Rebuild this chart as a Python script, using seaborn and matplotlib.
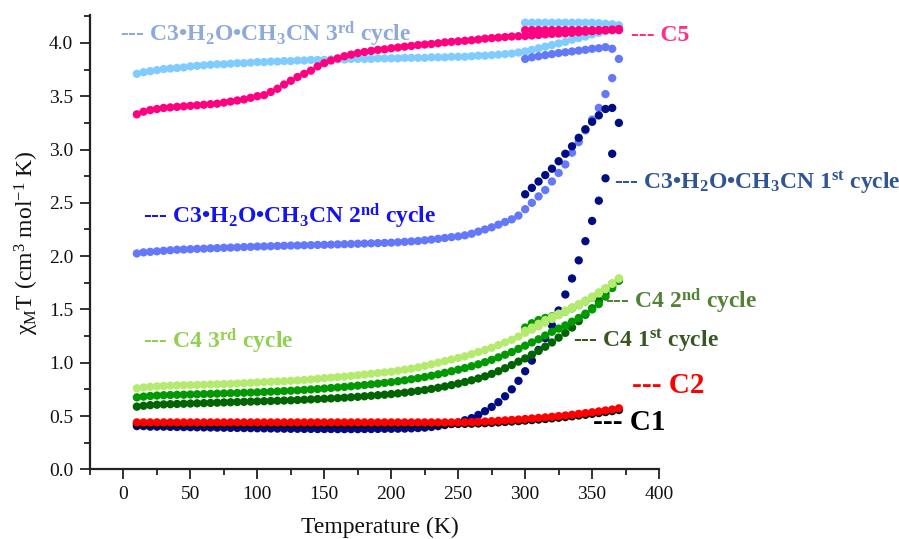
import numpy as np
import pandas as pd
import matplotlib
matplotlib.use("Agg")
import matplotlib.pyplot as plt
from matplotlib.ticker import MultipleLocator
import seaborn as sns

# ---------------- data ----------------
temp_main = [10, 15, 20, 25, 30, 35, 40, 45, 50, 55, 60, 65, 70, 75, 80, 85, 90, 95,
             100, 105, 110, 115, 120, 125, 130, 135, 140, 145, 150, 155, 160, 165, 170, 175,
             180, 185, 190, 195, 200, 205, 210, 215, 220, 225, 230, 235, 240, 245, 250, 255,
             260, 265, 270, 275, 280, 285, 290, 295, 300, 305, 310, 315, 320, 325, 330, 335,
             340, 345, 350, 355, 360, 365, 370]
temp_short = [300, 305, 310, 315, 320, 325, 330, 335, 340, 345, 350, 355, 360, 365, 370]
temp_short14 = [300, 305, 310, 315, 320, 325, 330, 335, 340, 345, 350, 355, 360, 365]

c3_3rd_main = [3.71, 3.725, 3.735, 3.745, 3.755, 3.76, 3.765, 3.77,
               3.78, 3.785, 3.79, 3.795, 3.80, 3.80, 3.805, 3.81, 3.81, 3.815,
               3.82, 3.82, 3.825, 3.825, 3.83, 3.83, 3.835, 3.835, 3.84, 3.84,
               3.84, 3.845, 3.845, 3.845, 3.85, 3.85, 3.85, 3.85, 3.855, 3.855,
               3.855, 3.855, 3.86, 3.86, 3.86, 3.86, 3.865, 3.865, 3.865, 3.87,
               3.87, 3.87, 3.875, 3.88, 3.88, 3.885, 3.89, 3.895, 3.90, 3.91,
               3.92, 3.935, 3.95, 3.965, 3.98, 3.995, 4.01, 4.03, 4.045, 4.06,
               4.08, 4.095, 4.11, 4.13, 4.15]
c3_3rd_short = [4.19, 4.19, 4.19, 4.19, 4.19, 4.19, 4.19, 4.19, 4.19, 4.19, 4.19, 4.185, 4.18, 4.175, 4.165]

c5_main = [3.33, 3.355, 3.37, 3.38, 3.39, 3.395, 3.40, 3.405,
           3.41, 3.415, 3.42, 3.425, 3.43, 3.44, 3.45, 3.46, 3.47, 3.485,
           3.50, 3.51, 3.54, 3.57, 3.61, 3.645, 3.68, 3.71, 3.74, 3.78,
           3.81, 3.835, 3.855, 3.875, 3.89, 3.905, 3.915, 3.925, 3.935, 3.94,
           3.95, 3.957, 3.965, 3.972, 3.98, 3.985, 3.99, 3.997, 4.005, 4.01,
           4.015, 4.02, 4.025, 4.032, 4.04, 4.045, 4.05, 4.055, 4.06, 4.063,
           4.065, 4.07, 4.075, 4.08, 4.085, 4.088, 4.09, 4.095, 4.10, 4.105,
           4.11, 4.115, 4.12, 4.125, 4.13]
c5_short = [4.12, 4.12, 4.12, 4.12, 4.12, 4.12, 4.12, 4.12, 4.12, 4.12, 4.12, 4.12, 4.12, 4.12, 4.12]

c3_2nd_main = [2.025, 2.035, 2.04, 2.045, 2.05, 2.055, 2.06, 2.062,
               2.065, 2.068, 2.07, 2.073, 2.075, 2.078, 2.08, 2.082, 2.085, 2.087,
               2.09, 2.091, 2.093, 2.095, 2.097, 2.099, 2.10, 2.102, 2.103, 2.105,
               2.106, 2.108, 2.11, 2.112, 2.114, 2.116, 2.118, 2.12, 2.122, 2.124,
               2.126, 2.13, 2.134, 2.138, 2.142, 2.148, 2.155, 2.162, 2.17, 2.178,
               2.185, 2.195, 2.21, 2.23, 2.25, 2.27, 2.295, 2.32, 2.345, 2.38,
               2.44, 2.50, 2.56, 2.62, 2.70, 2.78, 2.86, 2.97, 3.07, 3.18,
               3.28, 3.39, 3.52, 3.67, 3.85]
c3_2nd_short = [3.85, 3.865, 3.875, 3.885, 3.895, 3.905, 3.912, 3.92, 3.928, 3.935, 3.945, 3.95, 3.96, 3.945]

c3_1st_main = [0.405, 0.405, 0.40, 0.40, 0.40, 0.398, 0.397, 0.396,
               0.395, 0.394, 0.393, 0.392, 0.391, 0.39, 0.389, 0.388, 0.387, 0.386,
               0.385, 0.384, 0.383, 0.382, 0.381, 0.38, 0.38, 0.379, 0.379, 0.378,
               0.378, 0.378, 0.377, 0.377, 0.377, 0.377, 0.378, 0.378, 0.379, 0.38,
               0.38, 0.381, 0.382, 0.384, 0.387, 0.391, 0.397, 0.405, 0.415, 0.427,
               0.44, 0.46, 0.48, 0.51, 0.545, 0.585, 0.63, 0.685, 0.75, 0.83,
               0.92, 1.02, 1.12, 1.23, 1.35, 1.49, 1.64, 1.79, 1.96, 2.14,
               2.33, 2.52, 2.73, 2.96, 3.25]
c3_1st_short = [2.58, 2.64, 2.70, 2.76, 2.82, 2.89, 2.96, 3.03, 3.11, 3.19, 3.26, 3.32, 3.38, 3.39]

c2_main = [0.44, 0.44, 0.44, 0.44, 0.44, 0.44, 0.44, 0.44,
           0.44, 0.44, 0.44, 0.44, 0.44, 0.44, 0.44, 0.44, 0.44, 0.44,
           0.44, 0.44, 0.44, 0.44, 0.44, 0.44, 0.44, 0.44, 0.44, 0.44,
           0.44, 0.44, 0.44, 0.44, 0.44, 0.44, 0.44, 0.44, 0.44, 0.44,
           0.44, 0.44, 0.44, 0.44, 0.44, 0.44, 0.44, 0.44, 0.44, 0.44,
           0.44, 0.441, 0.443, 0.445, 0.448, 0.451, 0.455, 0.459, 0.463, 0.467,
           0.472, 0.477, 0.482, 0.487, 0.493, 0.499, 0.505, 0.512, 0.52, 0.527,
           0.535, 0.543, 0.552, 0.561, 0.572]

c1_main = [0.425, 0.425, 0.425, 0.425, 0.425, 0.425, 0.425, 0.425,
           0.425, 0.425, 0.425, 0.425, 0.425, 0.425, 0.425, 0.425, 0.425, 0.425,
           0.425, 0.425, 0.425, 0.425, 0.425, 0.425, 0.425, 0.425, 0.425, 0.425,
           0.425, 0.425, 0.425, 0.425, 0.425, 0.425, 0.425, 0.425, 0.425, 0.425,
           0.425, 0.425, 0.425, 0.425, 0.425, 0.425, 0.425, 0.425, 0.425, 0.425,
           0.426, 0.427, 0.428, 0.43, 0.433, 0.436, 0.44, 0.444, 0.448, 0.452,
           0.457, 0.462, 0.467, 0.472, 0.478, 0.484, 0.49, 0.497, 0.505, 0.512,
           0.52, 0.528, 0.537, 0.546, 0.556]

c4_3rd_main = [0.76, 0.768, 0.774, 0.778, 0.782, 0.785, 0.787, 0.789,
               0.79, 0.792, 0.794, 0.796, 0.798, 0.80, 0.802, 0.805, 0.808, 0.811,
               0.815, 0.818, 0.821, 0.824, 0.827, 0.83, 0.834, 0.838, 0.843, 0.849,
               0.855, 0.86, 0.865, 0.87, 0.876, 0.882, 0.889, 0.896, 0.903, 0.909,
               0.915, 0.925, 0.935, 0.945, 0.957, 0.97, 0.985, 1.00, 1.015, 1.03,
               1.045, 1.06, 1.08, 1.10, 1.12, 1.14, 1.165, 1.19, 1.215, 1.245,
               1.28, 1.31, 1.34, 1.375, 1.41, 1.445, 1.48, 1.51, 1.54, 1.575,
               1.61, 1.65, 1.69, 1.74, 1.79]
c4_3rd_short = [1.30, 1.33, 1.365, 1.40, 1.43, 1.46, 1.49, 1.52, 1.55, 1.585, 1.62, 1.66, 1.70, 1.745, 1.79]

c4_2nd_main = [0.675, 0.682, 0.688, 0.692, 0.695, 0.697, 0.699, 0.70,
               0.702, 0.704, 0.706, 0.708, 0.71, 0.712, 0.714, 0.716, 0.718, 0.72,
               0.722, 0.725, 0.728, 0.731, 0.734, 0.737, 0.741, 0.745, 0.749, 0.753,
               0.758, 0.763, 0.768, 0.773, 0.779, 0.785, 0.791, 0.797, 0.804, 0.811,
               0.818, 0.826, 0.835, 0.845, 0.855, 0.866, 0.878, 0.891, 0.905, 0.92,
               0.935, 0.95, 0.967, 0.985, 1.005, 1.027, 1.05, 1.075, 1.10, 1.13,
               1.16, 1.19, 1.22, 1.255, 1.29, 1.32, 1.35, 1.385, 1.42, 1.46,
               1.50, 1.55, 1.62, 1.70, 1.77]
c4_2nd_short = [1.33, 1.37, 1.40, 1.42, 1.435, 1.45, 1.48, 1.51, 1.54, 1.575, 1.61, 1.65, 1.69, 1.74]

c4_1st_main = [0.588, 0.596, 0.602, 0.606, 0.609, 0.611, 0.613, 0.615,
               0.617, 0.619, 0.621, 0.623, 0.625, 0.627, 0.629, 0.631, 0.633, 0.635,
               0.637, 0.639, 0.641, 0.643, 0.645, 0.647, 0.65, 0.653, 0.656, 0.659,
               0.662, 0.665, 0.668, 0.672, 0.676, 0.68, 0.685, 0.69, 0.695, 0.70,
               0.706, 0.712, 0.719, 0.727, 0.735, 0.744, 0.754, 0.765, 0.777, 0.79,
               0.804, 0.819, 0.835, 0.852, 0.872, 0.895, 0.92, 0.948, 0.978, 1.01,
               1.04, 1.075, 1.11, 1.15, 1.19, 1.235, 1.28, 1.33, 1.39, 1.45,
               1.51, 1.58, 1.65, 1.72, 1.77]

# series: (x, y, dot colour), drawn in this order
series = [
    (temp_main, c3_3rd_main, "#80CCFF"),
    (temp_short, c3_3rd_short, "#80CCFF"),
    (temp_main, c5_main, "#FF0080"),
    (temp_short, c5_short, "#FF0080"),
    (temp_main, c3_2nd_main, "#6478FA"),
    (temp_short14, c3_2nd_short, "#6478FA"),
    (temp_main, c3_1st_main, "#000C82"),
    (temp_short14, c3_1st_short, "#000C82"),
    (temp_main, c1_main, "#000000"),
    (temp_main, c2_main, "#FF0000"),
    (temp_main, c4_1st_main, "#006400"),
    (temp_short14, c4_2nd_short, "#009A00"),
    (temp_main, c4_2nd_main, "#009A00"),
    (temp_short, c4_3rd_short, "#B4EB6E"),
    (temp_main, c4_3rd_main, "#B4EB6E"),
]

# labels: (text, x, y baseline, colour, size)
labels = [
    (r"--- C3•H$_\mathbf{2}$O•CH$_\mathbf{3}$CN 3$^\mathbf{rd}$ cycle", -2.5, 4.02, "#8EA9DB", 17),
    (r"--- C5", 379.4, 4.015, "#FF2F87", 17),
    (r"--- C3•H$_\mathbf{2}$O•CH$_\mathbf{3}$CN 1$^\mathbf{st}$ cycle", 366, 2.63, "#2F5597", 17),
    (r"--- C3•H$_\mathbf{2}$O•CH$_\mathbf{3}$CN 2$^\mathbf{nd}$ cycle", 14.7, 2.313, "#1414F0", 17),
    (r"--- C4 2$^\mathbf{nd}$ cycle", 359.4, 1.51, "#548235", 17),
    (r"--- C4 1$^\mathbf{st}$ cycle", 335.8, 1.15, "#385723", 17),
    (r"--- C4 3$^\mathbf{rd}$ cycle", 14.9, 1.135, "#92D050", 17),
    (r"--- C2", 380, 0.72, "#FF0000", 21),
    (r"--- C1", 351, 0.369, "#000000", 21),
]

x_ticks = [0, 50, 100, 150, 200, 250, 300, 350, 400]
y_ticks = [0.0, 0.5, 1.0, 1.5, 2.0, 2.5, 3.0, 3.5, 4.0]

# ---------------- plotting ----------------
sns.set_style("ticks")
plt.rcParams["font.family"] = ["Liberation Serif", "DejaVu Serif"]
plt.rcParams["mathtext.fontset"] = "custom"
plt.rcParams["mathtext.rm"] = "Liberation Serif"
plt.rcParams["mathtext.it"] = "Liberation Serif:italic"
plt.rcParams["mathtext.bf"] = "Liberation Serif:bold"

fig = plt.figure(figsize=(8.99, 5.39), dpi=100)
ax = fig.add_axes([0.1001, 0.1293, 0.6330, 0.8429])

for xs, ys, col in series:
    df = pd.DataFrame({"T": xs, "chiT": ys})
    sns.scatterplot(data=df, x="T", y="chiT", color=col, s=36, linewidth=0,
                    edgecolor="none", ax=ax, legend=False, zorder=3, clip_on=False)

for txt, lx, ly, col, fs in labels:
    ax.text(lx, ly, txt, color=col, fontsize=fs, fontweight="bold",
            ha="left", va="baseline", zorder=5)

ax.set_xlim(-25, 400)
ax.set_ylim(0, 4.262)
ax.set_xticks(x_ticks)
ax.set_yticks(y_ticks)
ax.set_yticklabels([f"{v:.1f}" for v in y_ticks])
ax.xaxis.set_minor_locator(MultipleLocator(25))
ax.yaxis.set_minor_locator(MultipleLocator(0.25))
ax.tick_params(which="major", direction="out", length=7, width=1.3, labelsize=14,
               color="#222222", labelcolor="#111111", pad=5)
ax.tick_params(which="minor", direction="out", length=4, width=1.3, color="#222222")
for side in ["top", "right"]:
    ax.spines[side].set_visible(False)
for side in ["left", "bottom"]:
    ax.spines[side].set_linewidth(1.6)
    ax.spines[side].set_color("#222222")

ax.set_xlabel("Temperature (K)", fontsize=17, color="#111111")
ax.set_ylabel("χ$_{\\mathrm{M}}$T (cm$^{3}$ mol$^{-1}$ K)", fontsize=17, color="#111111")
ax.xaxis.set_label_coords(0.51, -0.105)
ax.yaxis.set_label_coords(-0.086, 0.5)

fig.savefig("out.png", dpi=100)
